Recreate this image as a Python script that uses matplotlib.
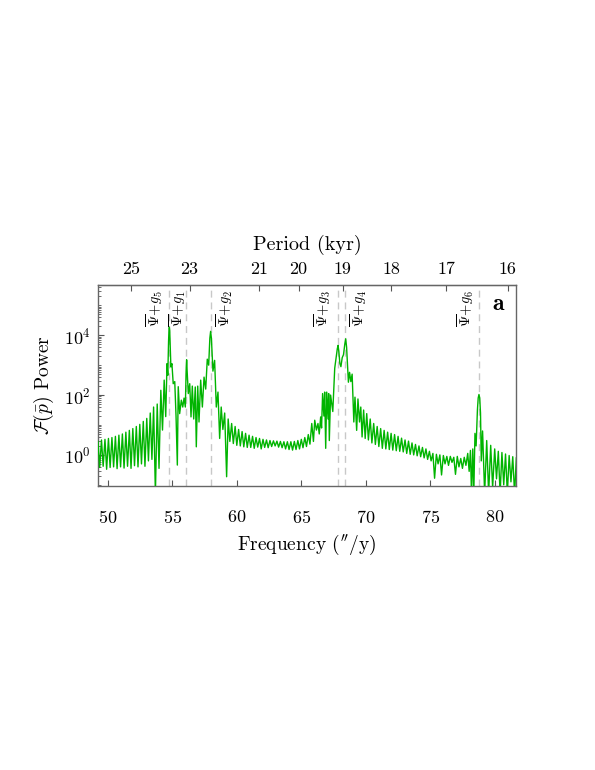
import numpy as np
import matplotlib
matplotlib.use("Agg")
import matplotlib.pyplot as plt
from matplotlib.ticker import FixedLocator, NullLocator, LogLocator, NullFormatter, FixedFormatter

plt.rcParams['font.family'] = 'serif'
plt.rcParams['font.serif'] = ['cmr10', 'DejaVu Serif']
plt.rcParams['mathtext.fontset'] = 'cm'
plt.rcParams['axes.formatter.use_mathtext'] = True
plt.rcParams['axes.unicode_minus'] = False

# ---------------- data ----------------
# frequency ("/y) of the local extrema of the spectrum
freq = [49.25,49.38,49.52,49.65,49.79,49.92,50.06,50.19,50.33,50.46,50.60,50.73,50.87,51.00,51.14,51.27,
        51.41,51.54,51.68,51.81,51.95,52.08,52.22,52.35,52.49,52.62,52.76,52.89,53.03,53.16,53.30,53.43,
        53.56,53.70,53.84,53.98,54.12,54.25,54.38,54.50,54.60,54.66,54.72,54.75,54.78,54.81,54.85,54.90,
        54.98,55.08,55.20,55.30,55.40,55.47,55.58,55.71,55.82,55.92,56.02,56.08,56.12,56.16,56.25,56.36,
        56.46,56.56,56.67,56.79,56.87,56.98,57.08,57.21,57.34,57.47,57.60,57.72,57.83,57.92,57.98,58.04,
        58.16,58.29,58.42,58.55,58.68,58.80,58.93,59.07,59.22,59.34,59.47,59.61,59.74,59.88,60.01,60.15,
        60.28,60.42,60.55,60.69,60.82,60.96,61.09,61.23,61.36,61.50,61.63,61.77,61.90,62.04,62.17,62.31,
        62.44,62.58,62.71,62.85,62.98,63.12,63.25,63.39,63.52,63.66,63.79,63.93,64.06,64.20,64.33,64.47,
        64.60,64.74,64.87,65.01,65.14,65.28,65.41,65.55,65.68,65.82,65.95,66.05,66.18,66.30,66.40,66.51,
        66.58,66.66,66.76,66.82,66.90,66.98,67.08,67.13,67.18,67.28,67.45,67.60,67.72,67.80,67.86,67.92,
        68.00,68.08,68.18,68.28,68.38,68.45,68.52,68.60,68.66,68.75,68.85,68.95,69.08,69.17,69.30,69.40,
        69.52,69.62,69.72,69.84,69.96,70.08,70.21,70.35,70.48,70.62,70.75,70.89,71.02,71.16,71.29,71.43,
        71.56,71.70,71.83,71.97,72.10,72.24,72.37,72.51,72.64,72.78,72.91,73.05,73.18,73.32,73.45,73.59,
        73.72,73.86,73.99,74.13,74.26,74.40,74.53,74.67,74.80,74.94,75.07,75.21,75.34,75.48,75.61,75.75,
        75.88,76.02,76.15,76.29,76.42,76.56,76.69,76.83,76.96,77.10,77.23,77.37,77.50,77.64,77.77,77.91,
        78.02,78.12,78.20,78.30,78.38,78.47,78.56,78.66,78.72,78.78,78.84,78.90,78.96,79.06,79.22,79.38,
        79.53,79.69,79.84,80.00,80.14,80.28,80.42,80.56,80.70,80.84,80.98,81.12,81.26,81.40,81.54,81.68]
# log10 of the power at those extrema
log_power = [0.45,-0.42,0.50,-0.38,0.52,-0.48,0.55,-0.42,0.58,-0.40,0.62,-0.46,0.66,-0.40,0.70,-0.44,
        0.76,-0.38,0.82,-0.45,0.88,-0.36,0.95,-0.40,1.02,-0.30,1.12,-0.38,1.22,-0.20,1.40,-0.15,
        1.60,-1.30,1.70,-0.45,2.16,0.83,2.50,1.28,3.05,2.66,3.80,4.15,4.27,4.15,3.60,2.94,
        3.05,2.38,2.45,1.28,-0.34,2.28,1.38,1.83,1.60,1.90,1.60,2.80,3.18,2.80,2.05,2.38,
        1.27,2.30,1.20,2.27,0.27,2.30,1.10,2.50,1.60,2.60,2.20,3.20,3.00,3.90,4.13,3.90,
        2.80,3.16,1.60,2.10,0.55,1.60,0.85,1.40,-0.73,1.20,0.45,1.05,0.38,0.95,0.32,0.85,
        0.30,0.78,0.27,0.72,0.25,0.66,0.25,0.62,0.22,0.58,0.26,0.55,0.20,0.52,0.25,0.50,
        0.24,0.48,0.28,0.47,0.30,0.46,0.26,0.45,0.24,0.44,0.20,0.44,0.18,0.44,0.16,0.45,
        0.18,0.48,0.20,0.52,0.24,0.58,0.28,0.68,0.36,1.05,0.45,1.16,0.83,1.05,0.70,1.27,
        0.90,2.05,1.30,2.10,0.22,2.10,1.20,2.05,0.48,2.00,1.45,2.90,3.30,3.55,3.66,3.45,
        3.05,2.95,3.25,3.35,3.70,3.88,3.60,2.90,2.43,2.76,2.45,2.70,1.10,1.93,0.82,1.87,
        1.10,1.60,0.60,1.50,0.55,1.38,0.50,1.20,0.40,1.05,0.35,0.95,0.28,0.88,0.22,0.82,
        0.20,0.76,0.18,0.72,0.16,0.68,0.14,0.62,0.12,0.56,0.10,0.50,0.05,0.46,0.02,0.40,
        0.00,0.35,-0.03,0.30,-0.06,0.25,-0.10,0.20,-0.15,0.12,-0.20,0.05,-0.78,0.02,-0.30,0.00,
        -0.67,-0.02,-0.30,-0.05,-0.35,-0.05,-0.25,-0.08,-0.65,-0.05,-0.40,-0.12,-0.45,-0.08,-0.35,0.05,
        -0.55,0.15,-1.30,0.20,-1.30,0.72,0.30,1.50,1.90,2.02,1.90,1.40,-0.20,0.80,-1.30,0.48,
        -1.30,0.32,-1.10,0.20,-0.80,0.12,-1.30,0.08,-1.00,0.03,-1.30,-0.02,-0.90,-0.06,-1.30,-0.10]

# spectral lines (frequency, "/y) and their labels
line_freqs = [54.78, 56.10, 57.98, 67.88, 68.42, 78.78]
line_labels = [r'$\overline{\Psi}\!+\!g_5$', r'$\overline{\Psi}\!+\!g_1$', r'$\overline{\Psi}\!+\!g_2$',
               r'$\overline{\Psi}\!+\!g_3$', r'$\overline{\Psi}\!+\!g_4$', r'$\overline{\Psi}\!+\!g_6$']

# top axis period ticks (kyr)
period_ticks = [25, 23, 21, 20, 19, 18, 17, 16]
freq_ticks = [50, 55, 60, 65, 70, 75, 80]

# ---------------- figure ----------------
fig = plt.figure(figsize=(5.95, 7.7), dpi=100)
ax = fig.add_axes([0.1647, 0.3692, 0.7025, 0.2607])

power = 10.0 ** np.asarray(log_power)
ax.semilogy(freq, power, color='#00b400', lw=1.0, zorder=3)

# label offsets (in "/y) relative to line: negative -> left of line
label_offsets = [-1.15, -0.65, 1.10, -1.20, 1.05, -1.00]
for f, lab, off in zip(line_freqs, line_labels, label_offsets):
    ax.axvline(f, color='#c8c8c8', lw=1.0, ls=(0, (5, 3.5)), zorder=2)
    ax.text(f + off, 0.975, lab, rotation=90, ha='center', va='top',
            transform=ax.get_xaxis_transform(), fontsize=10.5, zorder=4)

ax.set_xlim(49.25, 81.65)
ax.set_ylim(10 ** -1.03, 10 ** 5.68)

ax.xaxis.set_major_locator(FixedLocator(freq_ticks))
ax.xaxis.set_minor_locator(NullLocator())
ax.yaxis.set_major_locator(FixedLocator([1, 1e2, 1e4]))
ax.yaxis.set_minor_locator(LogLocator(base=10, subs=np.arange(1, 10), numticks=30))
ax.yaxis.set_minor_formatter(NullFormatter())
ax.tick_params(axis='both', which='major', direction='in', length=4, width=0.8,
               labelsize=13, top=False, right=False, color='#555555')
ax.tick_params(axis='x', which='major', pad=17)
ax.tick_params(axis='y', which='major', pad=5)
ax.tick_params(axis='y', which='minor', direction='in', length=2.2, width=0.6, color='#555555')
for s in ax.spines.values():
    s.set_color('#666666')
    s.set_linewidth(1.0)

ax.set_xlabel(r"Frequency ($''$/y)", fontsize=14, labelpad=5)
ax.set_ylabel(r"$\mathcal{F}(\bar{p})$ Power", fontsize=14, labelpad=6)

# top period axis
def f2p(x):
    x = np.asarray(x, dtype=float)
    return 1296.0 / np.where(x == 0, np.nan, x)

sec = ax.secondary_xaxis('top', functions=(f2p, f2p))
sec.xaxis.set_major_locator(FixedLocator(period_ticks))
sec.xaxis.set_major_formatter(FixedFormatter([str(p) for p in period_ticks]))
sec.xaxis.set_minor_locator(NullLocator())
sec.tick_params(direction='in', length=4, width=0.8, labelsize=13, color='#555555', pad=6)
sec.set_xlabel('Period (kyr)', fontsize=14.5, labelpad=8)

ax.text(0.975, 0.96, r'$\mathbf{a}$', transform=ax.transAxes, ha='right', va='top', fontsize=17)

fig.savefig('out.png', dpi=100)
